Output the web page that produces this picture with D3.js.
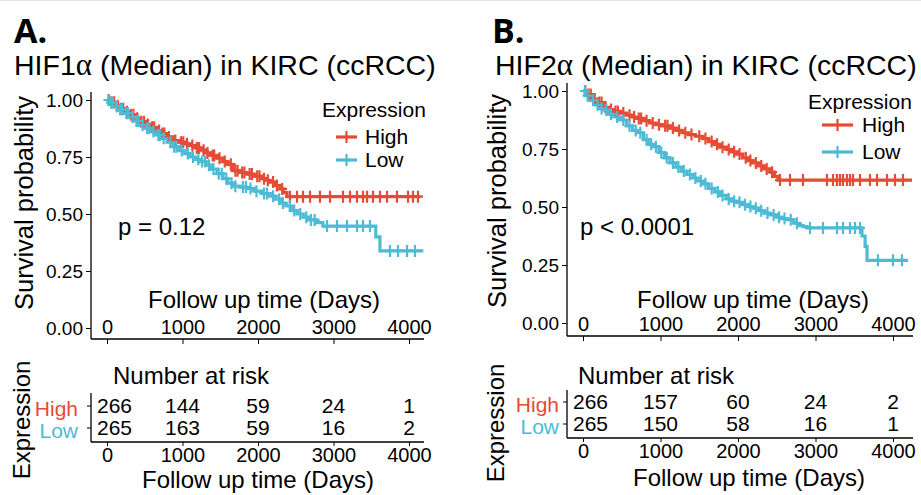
<!DOCTYPE html>
<html>
<head>
<meta charset="utf-8">
<script src="https://cdn.jsdelivr.net/npm/d3@7"></script>
<style>
  body { margin: 0; background: #fff; }
  text { font-family: 'Liberation Sans', Arial, Helvetica, sans-serif; fill: #000; }
</style>
</head>
<body>
<div id="chart"></div>
<script>
// time points for axis ticks and risk table
var riskTimes = [0, 1000, 2000, 3000, 4000];
var survTicks = [0, 0.25, 0.5, 0.75, 1];
var groups = ["High", "Low"];
var groupColors = ["#E64B35", "#4DBBD5"];

// HIF1a - Kaplan-Meier steps [days, survival]
var hif1High = [[0,1],[45,0.99],[110,0.975],[170,0.962],[240,0.948],[300,0.935],[370,0.92],[437,0.905],
  [510,0.893],[580,0.88],[650,0.866],[720,0.853],[800,0.838],[874,0.822],[950,0.815],[1030,0.808],
  [1100,0.8],[1170,0.79],[1240,0.78],[1310,0.768],[1380,0.757],[1460,0.745],[1536,0.73],[1600,0.718],
  [1669,0.69],[1760,0.682],[1854,0.675],[1950,0.666],[2050,0.655],[2110,0.648],[2159,0.64],[2230,0.625],
  [2291,0.61],[2340,0.594],[2384,0.576],[4150,0.576]];
var hif1Low = [[0,1],[40,0.988],[100,0.972],[160,0.958],[230,0.942],[300,0.925],[370,0.908],[437,0.89],
  [510,0.876],[580,0.862],[650,0.847],[720,0.832],[800,0.815],[874,0.795],[950,0.778],[1030,0.765],
  [1100,0.75],[1170,0.74],[1240,0.73],[1310,0.714],[1380,0.697],[1460,0.677],[1536,0.655],[1600,0.635],
  [1669,0.622],[1760,0.618],[1854,0.612],[1950,0.6],[2050,0.59],[2159,0.578],[2230,0.565],[2300,0.548],
  [2370,0.535],[2450,0.515],[2520,0.5],[2600,0.486],[2680,0.474],[2780,0.462],[2860,0.447],[3560,0.4],
  [3615,0.338],[4190,0.338]];
var hif1HighCens = [25,60,95,140,185,215,265,320,350,400,455,490,540,600,625,690,735,760,820,905,980,1010,
  1060,1130,1190,1220,1280,1330,1400,1420,1490,1560,1640,1700,1730,1790,1820,1890,1920,1990,2020,2080,2130,
  2200,2250,2320,2424,2517,2596,2689,2821,2954,3126,3219,3311,3391,3444,3523,3616,3709,3841,3987,4053,4119];
var hif1LowCens = [20,55,80,130,175,200,255,280,340,390,415,470,530,560,615,680,700,750,840,890,920,990,1070,
  1140,1210,1260,1300,1350,1410,1480,1520,1580,1650,1700,1800,1840,1900,1980,2080,2120,2200,2280,2330,2420,
  2480,2560,2640,2700,2750,2914,3046,3179,3311,3391,3483,3748,3854,3974,4079];
var hif1RiskHigh = [266, 144, 59, 24, 1];
var hif1RiskLow = [265, 163, 59, 16, 2];

// HIF2a
var hif2High = [[0,1],[50,0.985],[120,0.965],[190,0.95],[258,0.93],[330,0.92],[400,0.912],[480,0.905],
  [560,0.896],[640,0.888],[697,0.882],[780,0.872],[860,0.862],[940,0.855],[1020,0.85],[1123,0.84],
  [1200,0.83],[1280,0.82],[1360,0.812],[1450,0.805],[1548,0.795],[1620,0.782],[1700,0.77],[1768,0.758],
  [1850,0.748],[1920,0.738],[1987,0.728],[2060,0.712],[2130,0.7],[2194,0.69],[2260,0.677],[2330,0.664],
  [2413,0.65],[2470,0.632],[2516,0.616],[4245,0.616]];
var hif2Low = [[0,1],[40,0.98],[100,0.96],[160,0.94],[220,0.925],[258,0.918],[330,0.9],[400,0.888],
  [477,0.875],[560,0.85],[640,0.83],[697,0.82],[780,0.79],[850,0.77],[903,0.76],[980,0.735],[1050,0.712],
  [1123,0.69],[1200,0.672],[1270,0.655],[1342,0.64],[1420,0.625],[1480,0.612],[1548,0.6],[1620,0.58],
  [1700,0.565],[1768,0.55],[1850,0.535],[1920,0.525],[1987,0.52],[2060,0.51],[2130,0.502],[2194,0.495],
  [2270,0.484],[2340,0.474],[2413,0.466],[2500,0.456],[2560,0.45],[2632,0.445],[2720,0.43],[2790,0.42],
  [2839,0.415],[2890,0.41],[3600,0.375],[3640,0.33],[3665,0.27],[4194,0.27]];
var hif2HighCens = [30,70,100,150,210,240,290,360,420,450,520,600,660,720,750,820,900,980,1060,1090,1160,
  1240,1320,1400,1500,1580,1660,1730,1800,1880,1950,2020,2100,2160,2230,2300,2370,2440,2542,2671,2839,3148,
  3226,3277,3316,3355,3406,3445,3484,3574,3703,3794,3923,4026,4129];
var hif2LowCens = [25,60,130,190,240,300,360,440,520,600,680,740,820,880,940,1010,1080,1160,1230,1300,1380,
  1450,1520,1580,1660,1740,1800,1880,1950,2020,2090,2160,2230,2300,2380,2460,2530,2600,2680,2760,2929,3097,
  3277,3355,3445,3510,3574,3806,4000,4116];
var hif2RiskHigh = [266, 157, 60, 24, 2];
var hif2RiskLow = [265, 150, 58, 16, 1];

var W = 921, H = 495;
var svg = d3.select('#chart').append('svg')
    .attr('width', W)
    .attr('height', H);

svg.append('line').attr('x1', 0).attr('x2', W).attr('y1', 0.5).attr('y2', 0.5)
    .attr('stroke', '#e3e3e3');

var panels = [
  { label: "A.", labelX: 14, num: "1", titleX: 14,
    steps: [hif1High, hif1Low], cens: [hif1HighCens, hif1LowCens], risk: [hif1RiskHigh, hif1RiskLow],
    xr: [107, 409], yr: [328, 100], axX: 91, axTop: 92, axBot: 339, axRight: 424,
    xTitleX: 264, yTitleX: 24, yTitleY: 203,
    legX: 322, legY: 110, keyX: 336, keyW: 21, legTextX: 365, legRows: [137, 160],
    pX: 118, pText: "p = 0.12",
    nar: { textX: 113, top: 393, bot: 442, rows: [406, 428], labelX: 78, tickLabY: 455,
           titleX: 258, titleY: 480, exprX: 22, exprY: 420 } },
  { label: "B.", labelX: 492, num: "2", titleX: 495,
    steps: [hif2High, hif2Low], cens: [hif2HighCens, hif2LowCens], risk: [hif2RiskHigh, hif2RiskLow],
    xr: [583, 893], yr: [323, 91], axX: 567, axTop: 83, axBot: 336, axRight: 913,
    xTitleX: 753, yTitleX: 497, yTitleY: 201,
    legX: 808, legY: 102, keyX: 822, keyW: 31, legTextX: 862, legRows: [125, 152],
    pX: 580, pText: "p < 0.0001",
    nar: { textX: 578, top: 390, bot: 438, rows: [402, 424], labelX: 559, tickLabY: 453,
           titleX: 749, titleY: 478, exprX: 496, exprY: 423 } }
];

function survAt(steps, t) {
  var s = 1;
  steps.forEach(function (d) { if (d[0] <= t) s = d[1]; });
  return s;
}

panels.forEach(function (p) {
  var g = svg.append('g');

  g.append('text')
    .attr('x', p.labelX).attr('y', 43)
    .style('font-family', "'Open Sans', sans-serif")
    .style('font-weight', 700).style('font-size', '34px')
    .text(p.label);

  var title = g.append('text')
    .attr('x', p.titleX).attr('y', 75)
    .style('font-size', '28.5px');
  title.append('tspan').text('HIF' + p.num);
  title.append('tspan').style('font-family', "'Liberation Serif', serif").style('font-size', '31px').text('\u03b1');
  title.append('tspan').text(' (Median) in KIRC (ccRCC)');

  var x = d3.scaleLinear().domain([0, 4000]).range(p.xr);
  var y = d3.scaleLinear().domain([0, 1]).range(p.yr);

  // axes lines
  g.append('line').attr('x1', p.axX).attr('x2', p.axX).attr('y1', p.axTop).attr('y2', p.axBot)
    .attr('stroke', '#000').attr('stroke-width', 1.3);
  g.append('line').attr('x1', p.axX).attr('x2', p.axRight).attr('y1', p.axBot).attr('y2', p.axBot)
    .attr('stroke', '#000').attr('stroke-width', 1.3);

  var yAxis = g.append('g')
    .attr('transform', 'translate(' + p.axX + ',0)')
    .call(d3.axisLeft(y).tickValues(survTicks).tickFormat(d3.format('.2f')).tickSize(5).tickPadding(3));
  yAxis.select('.domain').remove();
  yAxis.selectAll('text').style('font-size', '19px').style('font-family', "'Liberation Sans', Arial, sans-serif").attr('fill', '#000');
  yAxis.selectAll('line').attr('stroke', '#000');

  var xAxis = g.append('g')
    .attr('transform', 'translate(0,' + p.axBot + ')')
    .call(d3.axisBottom(x).tickValues(riskTimes).tickFormat(d3.format('d')).tickSize(5));
  xAxis.select('.domain').remove();
  xAxis.selectAll('text').attr('y', -19).style('font-size', '20px')
    .style('font-family', "'Liberation Sans', Arial, sans-serif").attr('fill', '#000');
  xAxis.selectAll('line').attr('stroke', '#000');

  g.append('text')
    .attr('x', p.xTitleX).attr('y', 300).attr('dy', '0.35em')
    .attr('text-anchor', 'middle').style('font-size', '24px')
    .text('Follow up time (Days)');

  g.append('text')
    .attr('transform', 'translate(' + p.yTitleX + ',' + p.yTitleY + ') rotate(-90)')
    .attr('dy', '0.35em').attr('text-anchor', 'middle').style('font-size', '25.5px')
    .text('Survival probability');

  // curves
  var line = d3.line()
    .x(function (d) { return x(d[0]); })
    .y(function (d) { return y(d[1]); })
    .curve(d3.curveStepAfter);

  groups.forEach(function (grp, i) {
    g.append('path')
      .datum(p.steps[i])
      .attr('d', line)
      .attr('fill', 'none')
      .attr('stroke', groupColors[i])
      .attr('stroke-width', 3.2);
  });
  groups.forEach(function (grp, i) {
    g.selectAll('path.cens' + i)
      .data(p.cens[i])
      .enter()
      .append('path')
      .attr('class', 'cens' + i)
      .attr('d', 'M-5,0H5M0,-6V6')
      .attr('transform', function (d) {
        return 'translate(' + x(d) + ',' + y(survAt(p.steps[i], d)) + ')';
      })
      .attr('stroke', groupColors[i])
      .attr('stroke-width', 2.2)
      .attr('fill', 'none');
  });

  // legend
  g.append('text').attr('x', p.legX).attr('y', p.legY).attr('dy', '0.35em')
    .style('font-size', '21px').text('Expression');
  groups.forEach(function (grp, i) {
    var ry = p.legRows[i];
    g.append('line').attr('x1', p.keyX).attr('x2', p.keyX + p.keyW).attr('y1', ry).attr('y2', ry)
      .attr('stroke', groupColors[i]).attr('stroke-width', 3.2);
    g.append('line').attr('x1', p.keyX + p.keyW / 2).attr('x2', p.keyX + p.keyW / 2)
      .attr('y1', ry - 6).attr('y2', ry + 6)
      .attr('stroke', groupColors[i]).attr('stroke-width', 2.2);
    g.append('text').attr('x', p.legTextX).attr('y', ry).attr('dy', '0.35em')
      .style('font-size', '21px').text(grp);
  });

  g.append('text').attr('x', p.pX).attr('y', 227).attr('dy', '0.35em')
    .style('font-size', '24px').text(p.pText);

  // risk table
  var n = p.nar;
  g.append('text').attr('x', n.textX).attr('y', 376).attr('dy', '0.35em')
    .style('font-size', '24px').text('Number at risk');
  g.append('line').attr('x1', p.axX).attr('x2', p.axX).attr('y1', n.top).attr('y2', n.bot)
    .attr('stroke', '#000').attr('stroke-width', 1.3);
  g.append('line').attr('x1', p.axX).attr('x2', p.axRight).attr('y1', n.bot).attr('y2', n.bot)
    .attr('stroke', '#000').attr('stroke-width', 1.3);

  var rAxis = g.append('g')
    .attr('transform', 'translate(0,' + n.bot + ')')
    .call(d3.axisBottom(x).tickValues(riskTimes).tickFormat(d3.format('d')).tickSize(4));
  rAxis.select('.domain').remove();
  rAxis.selectAll('text').attr('y', 6).style('font-size', '20px')
    .style('font-family', "'Liberation Sans', Arial, sans-serif").attr('fill', '#000');
  rAxis.selectAll('line').attr('stroke', '#000');

  groups.forEach(function (grp, i) {
    var ry = n.rows[i];
    g.append('line').attr('x1', p.axX - 4).attr('x2', p.axX).attr('y1', ry).attr('y2', ry)
      .attr('stroke', '#000');
    g.append('text').attr('x', n.labelX).attr('y', ry + 3).attr('dy', '0.35em')
      .attr('text-anchor', 'end').style('font-size', '21px')
      .style('fill', groupColors[i]).text(grp);
    g.selectAll('text.risk' + i)
      .data(p.risk[i])
      .enter()
      .append('text')
      .attr('class', 'risk' + i)
      .attr('x', function (d, j) { return j === 0 ? x(riskTimes[j]) - 10 : x(riskTimes[j]); })
      .attr('y', ry).attr('dy', '0.35em')
      .attr('text-anchor', function (d, j) { return j === 0 ? 'start' : 'middle'; })
      .style('font-size', '21px')
      .text(function (d) { return d; });
  });

  g.append('text').attr('x', n.titleX).attr('y', n.titleY).attr('dy', '0.35em')
    .attr('text-anchor', 'middle').style('font-size', '24px')
    .text('Follow up time (Days)');

  g.append('text')
    .attr('transform', 'translate(' + n.exprX + ',' + n.exprY + ') rotate(-90)')
    .attr('dy', '0.35em').attr('text-anchor', 'middle').style('font-size', '24px')
    .text('Expression');
});
</script>
</body>
</html>
